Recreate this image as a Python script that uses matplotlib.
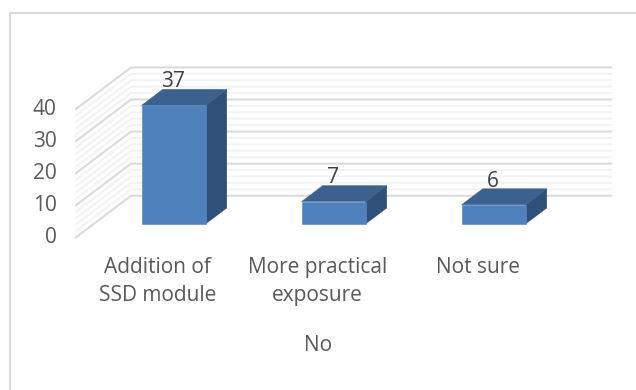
import matplotlib
matplotlib.use('Agg')
import matplotlib.pyplot as plt
from matplotlib.patches import Polygon
from matplotlib.lines import Line2D

categories = ['Addition of\nSSD module', 'More practical\nexposure', 'Not sure']
values = [37, 7, 6]
major_ticks = [0, 10, 20, 30, 40]
minor_ticks = [2, 4, 6, 8, 12, 14, 16, 18, 22, 24, 26, 28, 32, 34, 36, 38]
axis_title = 'No'

W, H = 636, 390
# one category is 160 px wide, one value unit is 3.21 px high
CAT_PX = 160.0
VAL_PX = 3.21
# how far the floor recedes, front to back
DEPTH_X = 55.0 / CAT_PX
DEPTH_Y = 41.6 / VAL_PX
BAR_WIDTH = 0.4
BAR_FRONT = 0.32
BAR_BACK = 0.705

plt.rcParams['font.family'] = ['Open Sans', 'DejaVu Sans']
TEXT = '#595959'
FS = 15


def project(x, y, d):
    return x + d * DEPTH_X, y + d * DEPTH_Y


fig = plt.figure(figsize=(W / 100, H / 100), dpi=100)
ax = fig.add_axes([76 / W, 1 - 237.3 / H, 480 / W, (237.3 - 109) / H])
ax.set_xlim(-0.5, 2.5)
ax.set_ylim(0, 40)
ax.axis('off')

# outer chart frame, only the top and left edges show
fx0, fy0 = 9.5 / W, 1 - 12.5 / H
fig.add_artist(Line2D([fx0, fx0, 1], [0, fy0, fy0], color='#D9D9D9', lw=1.4,
                      transform=fig.transFigure))

# side wall and back wall gridlines
for ticks, col, lw in [(minor_ticks, '#F2F2F2', 1.3), (major_ticks, '#D9D9D9', 1.4)]:
    for t in ticks:
        x0, y0 = project(-0.5, t, 0)
        x1, y1 = project(-0.5, t, 1)
        x2, y2 = project(2.5, t, 1)
        ax.plot([x0, x1, x2], [y0, y1, y2], color=col, lw=lw, clip_on=False, zorder=1,
                solid_joinstyle='miter')

for i, v in enumerate(values):
    l, r = i - BAR_WIDTH / 2, i + BAR_WIDTH / 2
    fl = project(l, 0, BAR_FRONT)
    fr = project(r, 0, BAR_FRONT)
    tl = project(l, v, BAR_FRONT)
    tr = project(r, v, BAR_FRONT)
    bl_top = project(l, v, BAR_BACK)
    br_top = project(r, v, BAR_BACK)
    br_bot = project(r, 0, BAR_BACK)
    ax.add_patch(Polygon([tr, br_top, br_bot, fr], facecolor='#2F5078', edgecolor='#2F5078',
                         lw=0.3, clip_on=False, zorder=3))
    ax.add_patch(Polygon([tl, bl_top, br_top, tr], facecolor='#3C618F', edgecolor='#3C618F',
                         lw=0.3, clip_on=False, zorder=3))
    ax.add_patch(Polygon([fl, fr, tr, tl], facecolor='#4F81BD', edgecolor='#5B8AC2',
                         lw=0.5, clip_on=False, zorder=4))
    # value label sits over the top face
    lx, ly = project(i, v, BAR_BACK)
    ax.annotate(str(v), (lx, ly), xytext=(-16, -2), textcoords='offset points', ha='center',
                va='bottom', fontsize=FS, color='#404040', zorder=5, annotation_clip=False)

for t in major_ticks:
    ax.annotate(str(t), (-0.5, t), xytext=(-14, -0.5), textcoords='offset points', ha='right',
                va='center', fontsize=FS, color=TEXT, annotation_clip=False)

for i, c in enumerate(categories):
    ax.annotate(c, (i, 0), xytext=(1.2, -14), textcoords='offset points', ha='center', va='top',
                fontsize=FS, color=TEXT, linespacing=1.45, annotation_clip=False)

ax.annotate(axis_title, (1, 0), xytext=(1.2, -70), textcoords='offset points', ha='center',
            va='top', fontsize=FS, color=TEXT, annotation_clip=False)

fig.savefig('out.png', dpi=100)
